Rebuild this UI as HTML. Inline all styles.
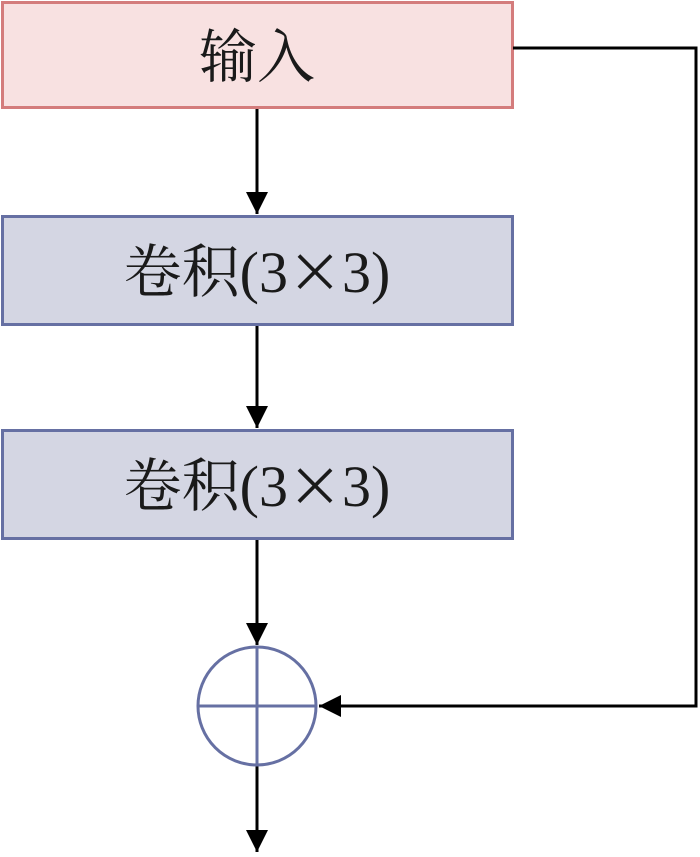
<!DOCTYPE html>
<html><head><meta charset="utf-8"><style>
body{margin:0;background:#fff;width:700px;height:852px;overflow:hidden}
svg text{font-family:"Liberation Serif","Noto Serif CJK SC",serif;font-size:58px;fill:#1a1a1a}
.x{font-family:"Noto Sans CJK SC",sans-serif;font-size:54px}
</style></head><body>
<svg width="700" height="852" viewBox="0 0 700 852" xmlns="http://www.w3.org/2000/svg">
<defs><marker id="a" markerWidth="22" markerHeight="22" refX="22" refY="11" orient="auto" markerUnits="userSpaceOnUse"><path d="M0,0 L22,11 L0,22 Z" fill="#000"/></marker></defs>
<rect x="2.5" y="2.5" width="510" height="105" fill="#f8e1e1" stroke="#d47c7c" stroke-width="3"/>
<text x="257" y="77" text-anchor="middle">输入</text>
<rect x="2.5" y="216.5" width="510" height="108" fill="#d4d6e3" stroke="#6670a3" stroke-width="3"/>
<text x="257" y="292" text-anchor="middle">卷积(3<tspan class="x">×</tspan>3)</text>
<rect x="2.5" y="430.5" width="510" height="108" fill="#d4d6e3" stroke="#6670a3" stroke-width="3"/>
<text x="257" y="506" text-anchor="middle">卷积(3<tspan class="x">×</tspan>3)</text>
<g stroke="#000" stroke-width="3" fill="none">
<line x1="257" y1="109" x2="257" y2="214" marker-end="url(#a)"/>
<line x1="257" y1="326" x2="257" y2="428" marker-end="url(#a)"/>
<line x1="257" y1="540" x2="257" y2="645" marker-end="url(#a)"/>
<line x1="257" y1="765" x2="257" y2="852" marker-end="url(#a)"/>
<polyline points="513,48 696,48 696,706 319,706" marker-end="url(#a)"/>
</g>
<g stroke="#6670a3" stroke-width="3" fill="none">
<circle cx="257" cy="706" r="59"/>
<line x1="198" y1="706" x2="316" y2="706"/>
<line x1="257" y1="647" x2="257" y2="765"/>
</g>
</svg>
</body></html>
